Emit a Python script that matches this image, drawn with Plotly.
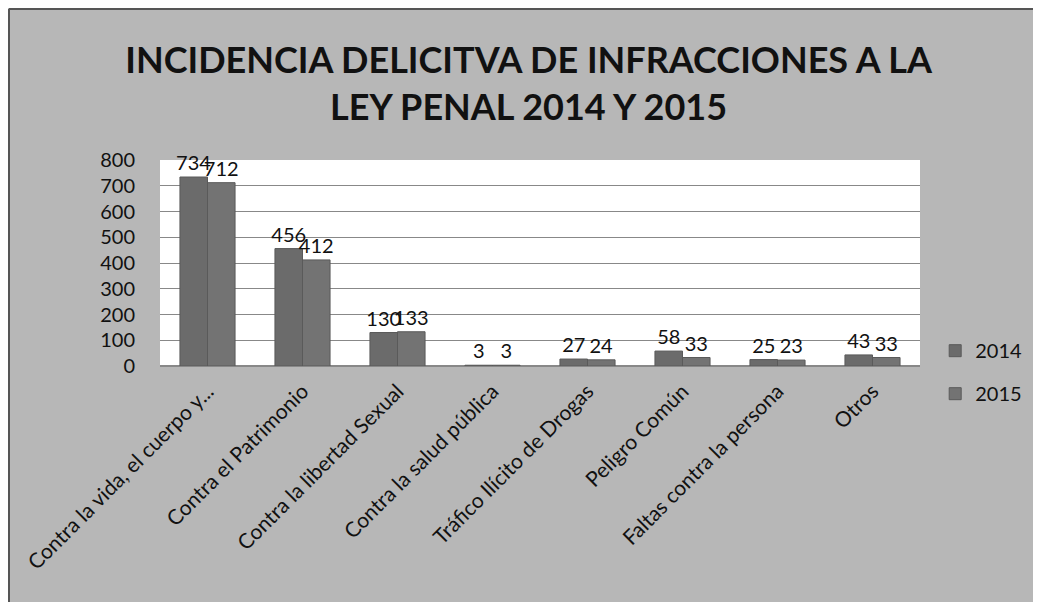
import plotly.graph_objects as go

categories = ["Contra la vida, el cuerpo y...", "Contra el Patrimonio", "Contra la libertad Sexual",
              "Contra la salud pública", "Tráfico Ilícito de Drogas", "Peligro Común",
              "Faltas contra la persona", "Otros"]
v2014 = [734, 456, 130, 3, 27, 58, 25, 43]
v2015 = [712, 412, 133, 3, 24, 33, 23, 33]
y_ticks = [0, 100, 200, 300, 400, 500, 600, 700, 800]

FONT = "Lato, 'Open Sans', sans-serif"

W, H = 1033, 594
L, R, T, B = 152, 121, 152, 236
PW, PH = W - L - R, H - T - B

fig = go.Figure()
fig.add_trace(go.Bar(name="2014", x=categories, y=v2014, text=v2014, textposition="outside",
                     legendgroup="a", constraintext="none",
                     marker=dict(color="#6b6b6b", line=dict(color="#5a5a5a", width=1)),
                     textfont=dict(size=20, color="#111", family=FONT), cliponaxis=False))
fig.add_trace(go.Bar(name="2015", x=categories, y=v2015, text=v2015, textposition="outside",
                     legendgroup="b", constraintext="none",
                     marker=dict(color="#737373", line=dict(color="#5a5a5a", width=1)),
                     textfont=dict(size=20, color="#111", family=FONT), cliponaxis=False))

fig.update_layout(
    width=W, height=H,
    paper_bgcolor="#b7b7b7", plot_bgcolor="#ffffff",
    margin=dict(l=L, r=R, t=T, b=B, autoexpand=False),
    barmode="group", bargap=0.42, bargroupgap=0,
    font=dict(family=FONT, size=20, color="#111"),
    title=dict(text="<b>INCIDENCIA DELICITVA DE INFRACCIONES A LA<br>LEY PENAL 2014 Y 2015</b>",
               x=0.504, xanchor="center", y=0.89, yanchor="middle",
               font=dict(size=36, color="#111", family=FONT)),
    legend=dict(x=1.02, y=-0.03, xanchor="left", yanchor="middle", bgcolor="rgba(0,0,0,0)",
                font=dict(size=20), tracegroupgap=14),
    showlegend=True,
)
fig.update_xaxes(tickangle=-45, tickfont=dict(size=21), showline=False, ticks="", automargin=False,
                 ticklabelstandoff=8)
fig.update_yaxes(range=[0, 800], tickvals=y_ticks, showgrid=True, gridcolor="#888888", gridwidth=1,
                 zeroline=True, zerolinecolor="#888888", tickfont=dict(size=20), ticks="",
                 ticklabelstandoff=24, automargin=False)
# frame lines at the left and top edge of the figure
x_edge = (1 - L) / PW
y_edge = 1 + (T - 1) / PH
y_bot = -B / PH
fig.add_shape(type="line", xref="paper", yref="paper", x0=x_edge, x1=x_edge, y0=y_bot, y1=y_edge,
              line=dict(color="#555555", width=2))
fig.add_shape(type="line", xref="paper", yref="paper", x0=x_edge, x1=(W - L) / PW, y0=y_edge, y1=y_edge,
              line=dict(color="#555555", width=2))
fig.write_html("out.html")
